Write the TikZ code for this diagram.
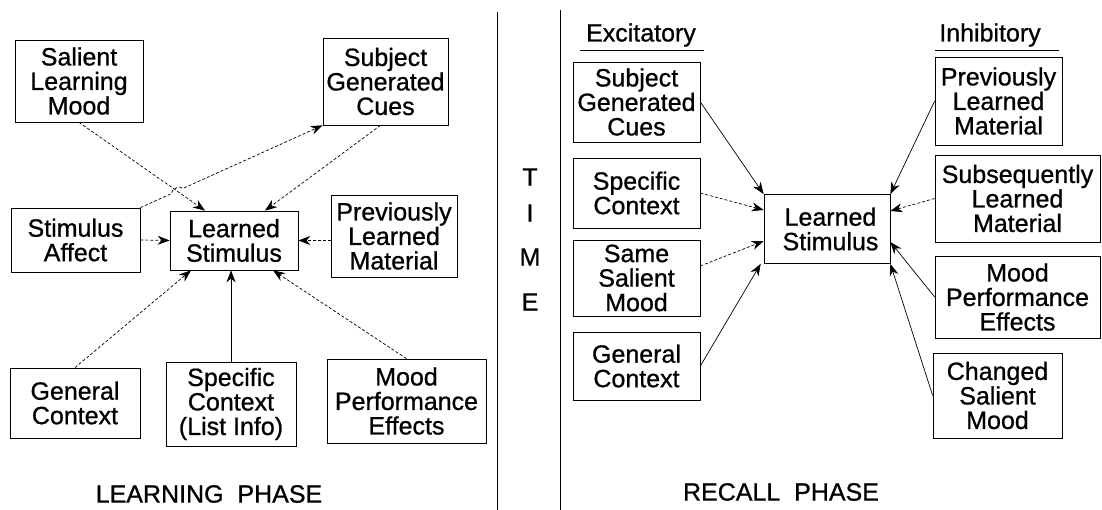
\documentclass[tikz,border=0pt]{standalone}
\usepackage{fontspec}
\setmainfont{Liberation Sans}
\newfontfamily\diafont{Liberation Sans}[BoldFont={Liberation Sans},BoldFeatures={FakeBold=0.8}]
\usetikzlibrary{arrows.meta,calc}
\tikzset{
  box/.style={draw, line width=0.7pt, align=center, inner sep=0pt,
    font=\diafont\bfseries\fontsize{25}{24.5}\selectfont},
  lbl/.style={inner sep=0pt, font=\diafont\bfseries\fontsize{25}{24.5}\selectfont},
  arr/.style={-{Stealth[length=12pt,width=9pt]}, line width=0.7pt},
  faint/.style={arr, densely dashed},
  divider/.style={line width=0.8pt}
}
\begin{document}
\begin{tikzpicture}[x=1pt,y=-1pt]
\useasboundingbox (0,0) rectangle (1102,510);
% ---------- learning phase ----------
\node[box, minimum width=128, minimum height=82] (slm) at (79,81) {Salient\\Learning\\Mood};
\node[box, minimum width=125, minimum height=87] (sgc) at (385.5,81.5) {Subject\\Generated\\Cues};
\node[box, minimum width=129, minimum height=64] (sa) at (75.5,240) {Stimulus\\Affect};
\node[box, minimum width=128, minimum height=59] (ls1) at (234,240.5) {Learned\\Stimulus};
\node[box, minimum width=126, minimum height=82] (plm) at (394,236) {Previously\\Learned\\Material};
\node[box, minimum width=130, minimum height=70] (gc) at (75,403) {General\\Context};
\node[box, minimum width=130, minimum height=84] (sc) at (231,404) {Specific\\Context\\(List Info)};
\node[box, minimum width=159, minimum height=84] (mpe) at (406.5,401) {Mood\\Performance\\Effects};
\node[lbl] (lp) at (209,494) {LEARNING\ \ PHASE};

\draw[faint] (slm.south) -- ([xshift=-29pt]ls1.north);
\draw[faint] (sa.north east) -- ($(sa.north east)!0.17!(sgc.south west)$)
  to[out=84,in=144] ($(sa.north east)!0.235!(sgc.south west)$) -- (sgc.south west);
\draw[faint] ([xshift=-5pt]sgc.south) -- ([xshift=31pt]ls1.north);
\draw[faint] (sa.east) -- (ls1.west);
\draw[faint] (plm.west|-ls1.east) -- (ls1.east);
\draw[faint] (gc.north) -- ([xshift=-43pt]ls1.south);
\draw[arr] (sc.north) -- (sc.north|-ls1.south);
\draw[faint] (mpe.north) -- ([xshift=39pt]ls1.south);

% ---------- dividers and TIME ----------
\coordinate (d1t) at (497,12);
\coordinate (d1b) at (497,510);
\coordinate (d2t) at (560,10);
\coordinate (d2b) at (560,510);
\draw[divider] (d1t) -- (d1b);
\draw[divider] (d2t) -- (d2b);
\node[lbl] (tT) at (530,177) {T};
\node[lbl] (tI) at (530,213) {I};
\node[lbl] (tM) at (530,257) {M};
\node[lbl] (tE) at (530,302) {E};

% ---------- recall phase ----------
\node[lbl] (exc) at (641,35) {Excitatory};
\node[lbl] (inh) at (990,35) {Inhibitory};
\draw[line width=0.6pt] (580,50) coordinate (eu1) -- (704,50) coordinate (eu2);
\draw[line width=0.6pt] (935,50) coordinate (iu1) -- (1059,50) coordinate (iu2);

\node[box, minimum width=127, minimum height=80] (sgc2) at (636.5,102) {Subject\\Generated\\Cues};
\node[box, minimum width=127, minimum height=70] (sc2) at (636.5,193) {Specific\\Context};
\node[box, minimum width=127, minimum height=76] (ssm) at (636.5,278) {Same\\Salient\\Mood};
\node[box, minimum width=127, minimum height=68] (gc2) at (636.5,366) {General\\Context};
\node[box, minimum width=126, minimum height=69] (ls2) at (827,229) {\ Learned\\\ Stimulus};
\node[box, minimum width=127, minimum height=88] (plm2) at (998.5,101) {Previously\\Learned\\Material};
\node[box, minimum width=165, minimum height=87] (slm2) at (1017.5,198.5) {Subsequently\\Learned\\Material};
\node[box, minimum width=165, minimum height=82] (mpe2) at (1017.5,297) {Mood\\Performance\\Effects};
\node[box, minimum width=129, minimum height=85] (csm) at (997.5,395.5) {Changed\\Salient\\Mood};
\node[lbl] (rp) at (781,492) {RECALL\ \ PHASE};

\draw[arr] (sgc2.east) -- (ls2.north west);
\draw[faint] (sc2.east) -- ([yshift=19pt]ls2.west);
\draw[faint] ([yshift=12pt]ssm.east) -- ([yshift=-12pt]ls2.west);
\draw[arr] (gc2.east) -- ([xshift=-3pt]ls2.south west);
\draw[arr] (plm2.west) -- (ls2.north east);
\draw[faint] (slm2.west) -- ([yshift=18pt]ls2.east);
\draw[arr] (mpe2.west) -- ([yshift=-13pt]ls2.east);
\draw[arr] (csm.west) -- (ls2.south east);
\end{tikzpicture}
\end{document}
